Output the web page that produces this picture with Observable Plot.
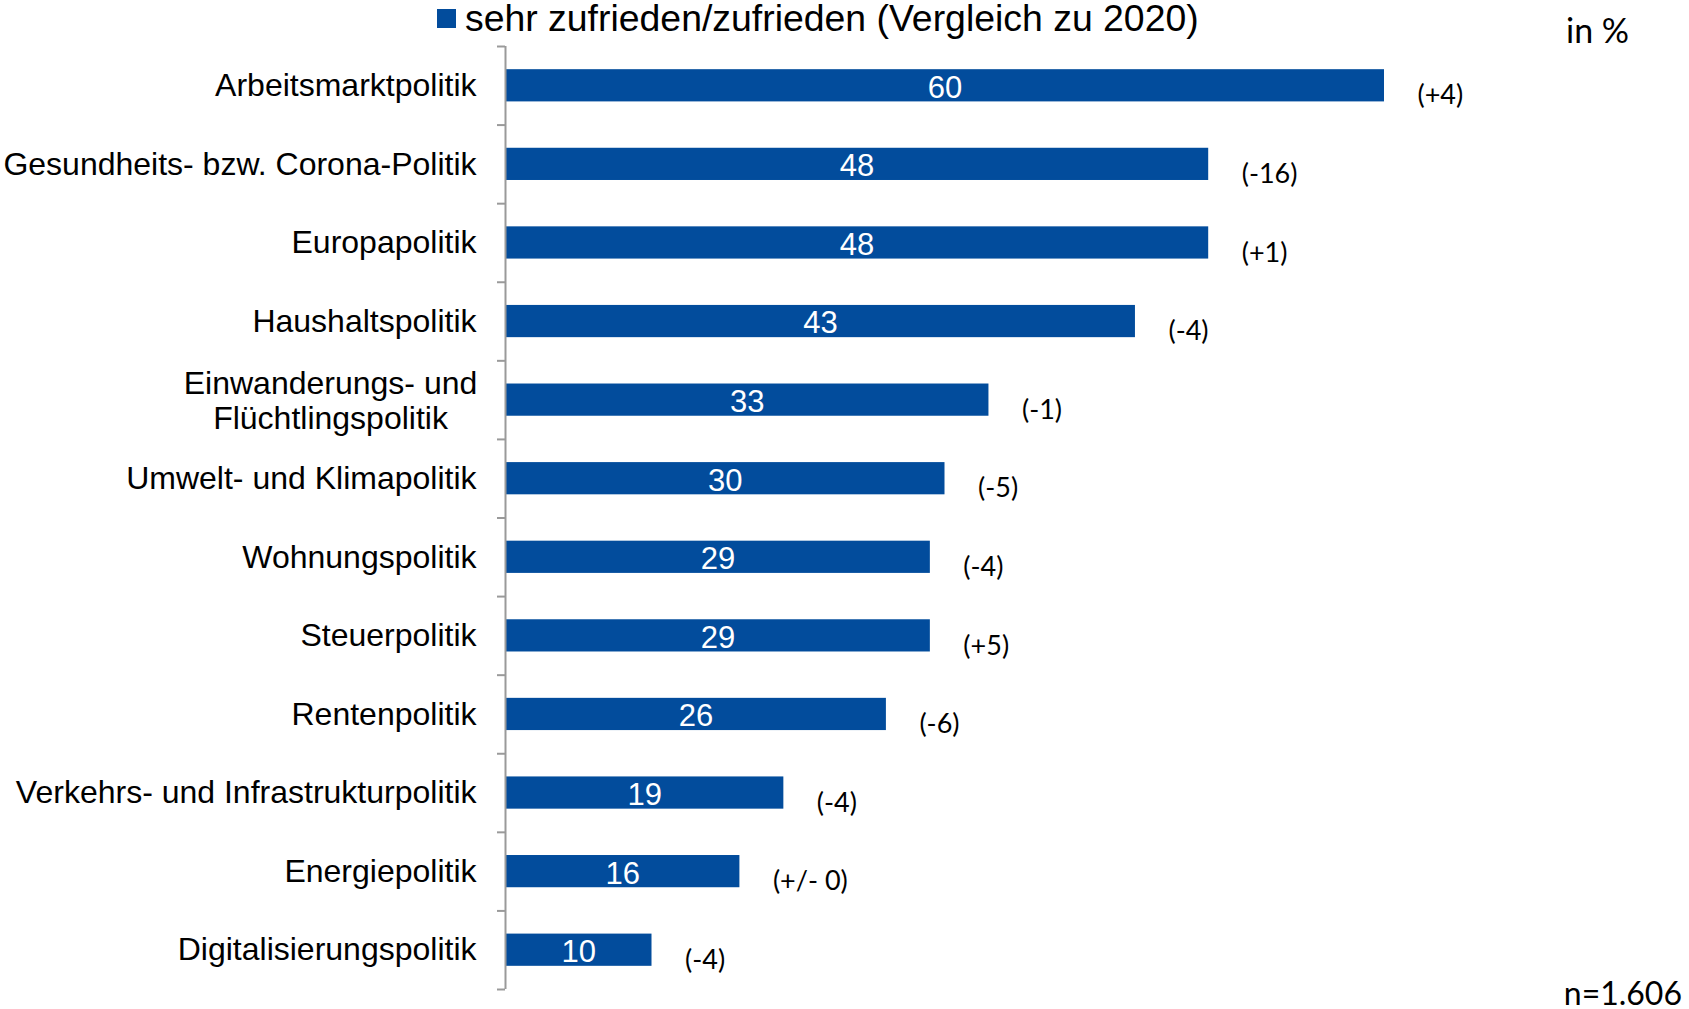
<!DOCTYPE html>
<html><head><meta charset="utf-8">
<script src="https://cdn.jsdelivr.net/npm/d3@7"></script>
<script src="https://cdn.jsdelivr.net/npm/@observablehq/plot@0.6"></script>
<style>
html,body{margin:0;padding:0;background:#fff;overflow:hidden;}
#wrap{position:relative;width:1689px;height:1009px;color:#000;}
#legend{position:relative;height:44px;}
#legend .sw{position:absolute;left:437px;top:9px;width:19px;height:19px;background:#024C9C;}
#legend .lt{position:absolute;left:465px;top:0px;font:37.4px/37px "Liberation Sans",Arial,sans-serif;white-space:nowrap;}
#legend .unit{position:absolute;left:1566px;top:13px;font:34px/34px Lato,"Open Sans",sans-serif;white-space:nowrap;}
.n{position:absolute;right:7px;top:977px;font:32px/32px Lato,"Open Sans",sans-serif;white-space:nowrap;}
#chart svg{display:block;overflow:visible;}
</style></head><body>
<div id="wrap">
  <div id="legend">
    <div class="sw"></div><span class="lt">sehr zufrieden/zufrieden (Vergleich zu 2020)</span>
    <span class="unit">in %</span>
  </div>
  <div id="chart"></div>
  <div class="n">n=1.606</div>
</div>
<script>
const categories = [
  "Arbeitsmarktpolitik",
  "Gesundheits- bzw. Corona-Politik",
  "Europapolitik",
  "Haushaltspolitik",
  "Einwanderungs- und\nFlüchtlingspolitik",
  "Umwelt- und Klimapolitik",
  "Wohnungspolitik",
  "Steuerpolitik",
  "Rentenpolitik",
  "Verkehrs- und Infrastrukturpolitik",
  "Energiepolitik",
  "Digitalisierungspolitik"
];
const values = [60, 48, 48, 43, 33, 30, 29, 29, 26, 19, 16, 10];
const changes = ["(+4)", "(-16)", "(+1)", "(-4)", "(-1)", "(-5)", "(-4)", "(+5)", "(-6)", "(-4)", "(+/- 0)", "(-4)"];

const data = categories.map((c, i) => ({category: c, value: values[i], change: changes[i]}));

const W = 1689, H = 965, MT = 2, MB = 20, ML = 505, MR = 305;
const step = (H - MT - MB) / categories.length;
const barColor = "#024C9C";
const sans = "'Liberation Sans', Arial, sans-serif";
const single = categories.filter(c => !c.includes("\n"));
const multi = categories.filter(c => c.includes("\n"));

const chart = Plot.plot({
  width: W, height: H,
  marginTop: MT, marginBottom: MB, marginLeft: ML, marginRight: MR,
  style: {fontFamily: sans, color: "#000", background: "transparent"},
  x: {domain: [0, 60], axis: null},
  y: {domain: categories, paddingInner: 0.59, paddingOuter: 0.295, round: false, label: null},
  marks: [
    Plot.barX(data, {x: "value", y: "category", fill: barColor}),
    Plot.ruleX([0], {stroke: "#9a9a9a", strokeWidth: 2}),
    Plot.axisY({ticks: categories, tickSize: 8, tickFormat: () => "", dy: -step / 2, stroke: "#9a9a9a", strokeWidth: 2, label: null}),
    Plot.axisY({ticks: categories.slice(-1), tickSize: 8, tickFormat: () => "", dy: step / 2, stroke: "#9a9a9a", strokeWidth: 2, label: null}),
    Plot.axisY({ticks: single, tickSize: 0, tickPadding: 29, fontSize: 32, fontFamily: sans, fill: "#000", label: null}),
    Plot.axisY({ticks: multi, tickSize: 0, tickPadding: 175, textAnchor: "middle", lineHeight: 1.1, fontSize: 32, fontFamily: sans, fill: "#000", label: null}),
    Plot.text(data, {x: d => d.value / 2, y: "category", text: d => String(d.value), fill: "white", fontSize: 31, fontFamily: sans, dy: 2}),
    Plot.text(data, {x: "value", y: "category", text: "change", textAnchor: "start", dx: 33, dy: 10, fontSize: 27, fontFamily: "Lato, 'Open Sans', sans-serif", fill: "#000"})
  ]
});
document.getElementById("chart").appendChild(chart);
</script>
</body></html>
